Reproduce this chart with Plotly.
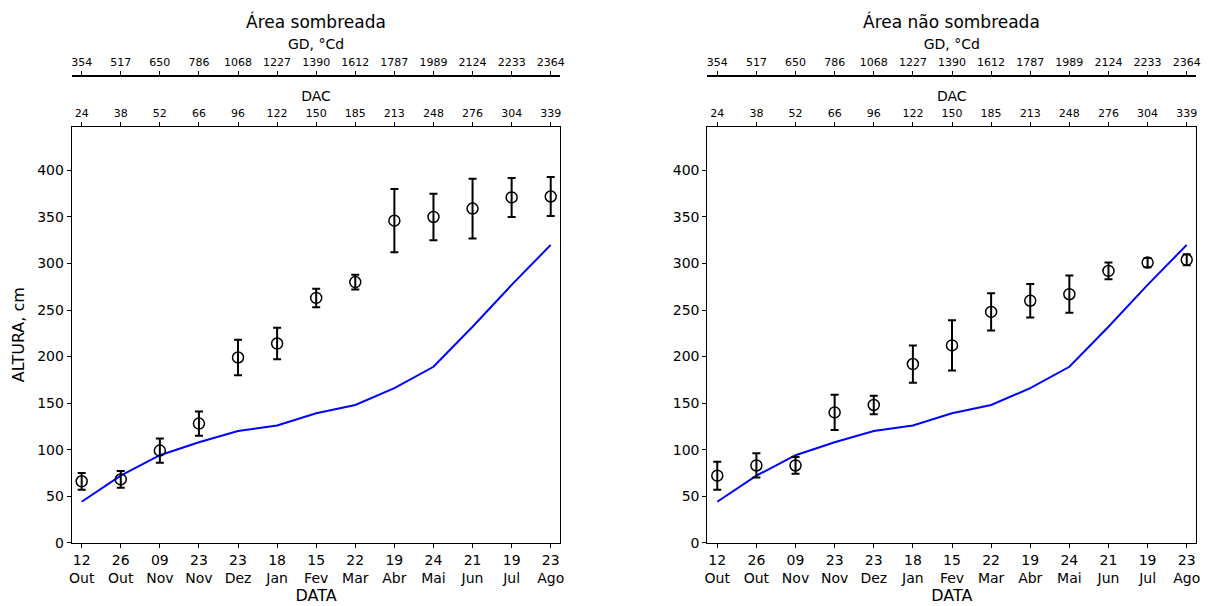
import plotly.graph_objects as go

datas = ["12<br>Out", "26<br>Out", "09<br>Nov", "23<br>Nov", "23<br>Dez", "18<br>Jan", "15<br>Fev",
         "22<br>Mar", "19<br>Abr", "24<br>Mai", "21<br>Jun", "19<br>Jul", "23<br>Ago"]
dac = ["24", "38", "52", "66", "96", "122", "150", "185", "213", "248", "276", "304", "339"]
gd = ["354", "517", "650", "786", "1068", "1227", "1390", "1612", "1787", "1989", "2124", "2233", "2364"]

somb_media = [66, 68, 99, 128, 199, 214, 263, 280, 346, 350, 359, 371, 372]
somb_erro = [9, 9, 13, 13, 19, 17, 10, 8, 34, 25, 32, 21, 21]
nsomb_media = [72, 83, 83, 140, 148, 192, 212, 248, 260, 267, 292, 301, 304]
nsomb_erro = [15, 13, 9, 19, 10, 20, 27, 20, 18, 20, 9, 5, 6]
modelo = [44, 72, 94, 108, 120, 126, 139, 148, 166, 189, 232, 277, 320]

W, H = 1208, 606
pos = list(range(len(datas)))

fig = go.Figure()

doms = [(71.7 / W, 560.3 / W), (707.3 / W, 1196.3 / W)]
ydom = (1 - 542.7 / H, 1 - 126.7 / H)
titles = ["Área sombreada", "Área não sombreada"]
series = [(somb_media, somb_erro), (nsomb_media, nsomb_erro)]
FONT = "DejaVu Sans"

for i in range(2):
    xa = "x" if i == 0 else "x2"
    ya = "y" if i == 0 else "y2"
    media, erro = series[i]
    fig.add_trace(go.Scatter(x=pos, y=modelo, mode="lines", line=dict(color="#0000ff", width=2),
                             xaxis=xa, yaxis=ya, showlegend=False))
    fig.add_trace(go.Scatter(x=pos, y=media, mode="markers",
                             marker=dict(symbol="circle-open", size=11, color="black", line=dict(width=1.5)),
                             error_y=dict(type="data", array=erro, visible=True, color="black",
                                          thickness=2, width=4),
                             xaxis=xa, yaxis=ya, showlegend=False))

common_x = dict(range=[-0.255, 12.245], tickmode="array", tickvals=pos, showgrid=False,
                zeroline=False, linecolor="black", linewidth=1, ticks="outside", ticklen=4,
                tickcolor="black", tickfont=dict(family=FONT, size=11, color="black"),
                automargin=False)
common_y = dict(range=[0, 447], tickmode="array", tickvals=list(range(0, 401, 50)), showgrid=False,
                zeroline=False, showline=True, linecolor="black", linewidth=1, mirror=True,
                ticks="outside", ticklen=4, tickcolor="black", automargin=False,
                tickfont=dict(family=FONT, size=14, color="black"), domain=list(ydom))

lay = {}
for i in range(2):
    n = "" if i == 0 else "2"
    xb = "x" + ("" if i == 0 else "2")
    yb = "y" + ("" if i == 0 else "2")
    bx = dict(common_x)
    bx.update(domain=list(doms[i]), ticktext=datas, showline=True, mirror=True, anchor=yb,
              tickfont=dict(family=FONT, size=14, color="black"),
              title=dict(text="DATA", font=dict(family=FONT, size=16, color="black"), standoff=0))
    lay["xaxis" + n] = bx
    yy = dict(common_y)
    yy.update(anchor=xb)
    if i == 0:
        yy.update(title=dict(text="ALTURA, cm", font=dict(family=FONT, size=16, color="black"), standoff=8))
    lay["yaxis" + n] = yy
    k1 = 3 + 2 * i
    k2 = 4 + 2 * i
    dx = dict(common_x)
    dx.update(overlaying=xb, side="top", anchor=yb, ticktext=dac, showline=False,
              domain=list(doms[i]),
              title=dict(text="DAC", font=dict(family=FONT, size=14, color="black"), standoff=2))
    lay["xaxis%d" % k1] = dx
    gx = dict(common_x)
    gx.update(overlaying=xb, side="top", anchor="free", position=1 - 75.5 / H, ticktext=gd,
              showline=True, linewidth=2, domain=list(doms[i]),
              title=dict(text="GD, °Cd", font=dict(family=FONT, size=14, color="black"), standoff=2))
    lay["xaxis%d" % k2] = gx

fig.update_layout(**lay)

for k, yb in [(3, "y"), (4, "y"), (5, "y2"), (6, "y2")]:
    fig.add_trace(go.Scatter(x=pos, y=modelo, mode="markers", marker=dict(opacity=0),
                             xaxis="x%d" % k, yaxis=yb, showlegend=False, hoverinfo="skip"))

for i in range(2):
    fig.add_annotation(text=titles[i], xref="paper", yref="paper",
                       x=(doms[i][0] + doms[i][1]) / 2, y=1 - 22 / H, xanchor="center", yanchor="middle",
                       showarrow=False, font=dict(family=FONT, size=17, color="black"))

fig.update_layout(width=W, height=H, margin=dict(l=0, r=0, t=0, b=0),
                  plot_bgcolor="white", paper_bgcolor="white",
                  font=dict(family=FONT, color="black"))

fig.write_html("out.html", config={"displayModeBar": False},
               post_script="document.body.style.margin='0px';document.body.style.overflow='hidden';")
